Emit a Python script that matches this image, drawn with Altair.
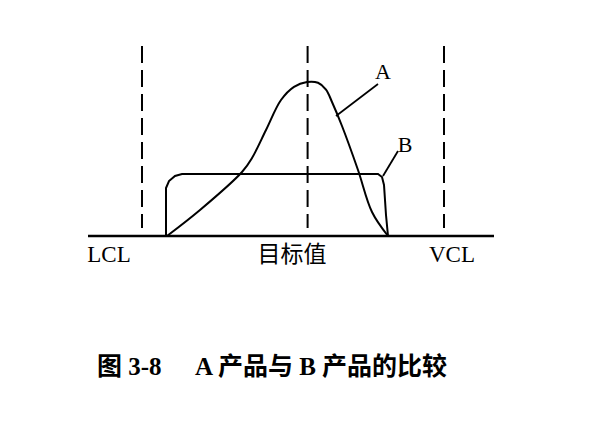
import altair as alt
import pandas as pd

# Product A: peaked output distribution (x = measured value, y = relative frequency)
a_x = [19.75, 28.0, 38.5, 41.0, 44.5, 48.25, 51.5, 54.75, 57.5, 59.5, 61.0, 63.5, 67.5, 71.0, 75.0]
a_y = [0.0, 6.5, 16.0, 19.5, 26.5, 34.0, 37.3, 38.5, 38.3, 36.6, 33.5, 27.5, 16.5, 6.0, 0.0]

# Product B: flat (uniform-like) distribution
b_x = [19.5, 19.5, 20.25, 21.75, 23.5, 72.5, 73.5, 74.0, 74.5, 75.0]
b_y = [0.0, 12.0, 13.75, 15.0, 15.5, 15.5, 14.75, 12.75, 5.25, 0.0]

# Reference lines: lower limit, target value, upper limit
ref_names = ["LCL", "目标值", "VCL"]
ref_x = [13.5, 54.9, 89.0]
ref_top = 47.5
ref_bottom = 2.0

# Horizontal measurement axis span
base_x = [0.0, 101.5]

x_scale = alt.Scale(domain=[-22, 126], nice=False, zero=False)
y_scale = alt.Scale(domain=[-48.5, 59], nice=False, zero=False)

SERIF = "Liberation Serif, Noto Sans CJK SC"


def X(field="x"):
    return alt.X(f"{field}:Q", scale=x_scale, axis=None)


def Y(field="y"):
    return alt.Y(f"{field}:Q", scale=y_scale, axis=None)


df_a = pd.DataFrame({"x": a_x, "y": a_y})
df_b = pd.DataFrame({"x": b_x, "y": b_y, "o": list(range(len(b_x)))})
df_ref = pd.DataFrame({"x": ref_x, "y": [ref_top] * 3, "y2": [ref_bottom] * 3})
df_base = pd.DataFrame({"x": [base_x[0]], "x2": [base_x[1]], "y": [0.0]})

baseline = alt.Chart(df_base).mark_rule(color="black", strokeWidth=2.6).encode(
    x=X(), x2="x2:Q", y=Y()
)

dashed = alt.Chart(df_ref).mark_rule(
    color="black", strokeWidth=2, strokeDash=[17, 7]
).encode(x=X(), y=Y(), y2="y2:Q")

curve_a = alt.Chart(df_a).mark_line(
    color="black", strokeWidth=2, interpolate="catmull-rom"
).encode(x=X(), y=Y())

curve_b = alt.Chart(df_b).mark_line(color="black", strokeWidth=2).encode(
    x=X(), y=Y(), order="o:Q"
)

# Leader lines from each curve to its letter
df_lead = pd.DataFrame(
    {"x": [62.0, 73.75], "y": [30.0, 15.0], "x2": [72.5, 77.5], "y2": [38.0, 21.25]}
)
leaders = alt.Chart(df_lead).mark_rule(color="black", strokeWidth=1.8).encode(
    x=X(), y=Y(), x2="x2:Q", y2="y2:Q"
)

df_letters = pd.DataFrame({"x": [73.75, 79.25], "y": [41.0, 22.75], "t": ["A", "B"]})
letters = alt.Chart(df_letters).mark_text(
    font=SERIF, fontSize=22, color="black", align="center", baseline="middle"
).encode(x=X(), y=Y(), text="t:N")

label_x = [5.25, 51.0, 91.0]
df_labels = pd.DataFrame({"x": label_x, "y": [-4.75] * 3, "t": ref_names})
labels = alt.Chart(df_labels).mark_text(
    font=SERIF, fontSize=23, color="black", align="center", baseline="middle"
).encode(x=X(), y=Y(), text="t:N")

df_cap = pd.DataFrame(
    {"x": [2.25, 26.75], "y": [-32.75, -32.75], "t": ["图 3-8", "A 产品与 B 产品的比较"]}
)
caption = alt.Chart(df_cap).mark_text(
    font=SERIF, fontSize=25, fontWeight="bold", color="black",
    align="left", baseline="middle"
).encode(x=X(), y=Y(), text="t:N")

chart = alt.layer(
    baseline, dashed, curve_b, curve_a, leaders, letters, labels, caption
).properties(
    width=592, height=430, padding=0, autosize=alt.AutoSizeParams(type="none"),
    background="white"
).configure_view(stroke=None)

chart.save("out.html", embed_options={"renderer": "svg", "actions": False})
